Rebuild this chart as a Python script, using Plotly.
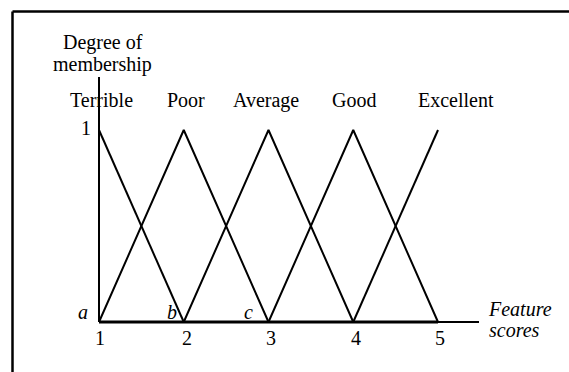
import plotly.graph_objects as go

# ---- data ----
scores = [1, 2, 3, 4, 5]
tick_labels = ["1", "2", "3", "4", "5"]
categories = ["Terrible", "Poor", "Average", "Good", "Excellent"]
terrible_x, terrible_y = [1, 2], [1, 0]
poor_x, poor_y = [1, 2, 3], [0, 1, 0]
average_x, average_y = [2, 3, 4], [0, 1, 0]
good_x, good_y = [3, 4, 5], [0, 1, 0]
excellent_x, excellent_y = [4, 5], [0, 1]
point_letters = ["a", "b", "c"]

W, H = 569, 372
# pixel mapping: x=1 -> 99px, x=5 -> 438px ; y=0 -> 322px, y=1 -> 130px
KX = (438 - 99) / 4.0
KY = (322 - 130) / 1.0
X0 = 1 - 99 / KX
X1 = X0 + W / KX
Y1 = 322 / KY
Y0 = Y1 - H / KY


def dx(px):
    return X0 + px / KX


def dy(py):
    return Y1 - py / KY


FONT = "Liberation Serif, Times New Roman, serif"
fs = 20

fig = go.Figure()
series = [(terrible_x, terrible_y), (poor_x, poor_y), (average_x, average_y),
          (good_x, good_y), (excellent_x, excellent_y)]
for (xs, ys), name in zip(series, categories):
    fig.add_trace(go.Scatter(x=xs, y=ys, mode="lines", name=name,
                             line=dict(color="black", width=2),
                             showlegend=False, hoverinfo="skip"))

shapes = []
# axes
shapes.append(dict(type="line", xref="x", yref="y", x0=1, x1=1, y0=0, y1=dy(77),
                   line=dict(color="black", width=2)))
shapes.append(dict(type="line", xref="x", yref="y", x0=1, x1=dx(479), y0=0, y1=0,
                   line=dict(color="black", width=2)))
shapes.append(dict(type="line", xref="x", yref="y", x0=scores[0], x1=scores[-1], y0=0, y1=0,
                   line=dict(color="black", width=3)))
# frame
shapes.append(dict(type="line", xref="paper", yref="paper", x0=12.5 / W, x1=1, y0=1 - 11.5 / H, y1=1 - 11.5 / H,
                   line=dict(color="black", width=2.5)))
shapes.append(dict(type="line", xref="paper", yref="paper", x0=12.5 / W, x1=12.5 / W, y0=0, y1=1 - 11.5 / H,
                   line=dict(color="black", width=2.5)))

ann = []


def txt(s, px, py, italic=False):
    t = "<i>%s</i>" % s if italic else s
    ann.append(dict(text=t, x=dx(px), y=dy(py), xref="x", yref="y", showarrow=False,
                    xanchor="center", yanchor="middle",
                    font=dict(family=FONT, size=fs, color="black")))


txt("Degree of", 102.5, 42)
txt("membership", 102, 64)
cat_px = [101, 186, 266, 354, 455.5]
for c, p in zip(categories, cat_px):
    txt(c, p, 100)
txt("1", 86, 128)
for lab, px in zip(tick_labels, [100, 187, 271, 356, 440]):
    txt(lab, px, 338)
for lab, px in zip(point_letters, [83, 172, 248]):
    txt(lab, px, 312, italic=True)
txt("Feature", 520, 309, italic=True)
txt("scores", 514, 330, italic=True)

fig.update_layout(
    width=W, height=H, margin=dict(l=0, r=0, t=0, b=0),
    paper_bgcolor="white", plot_bgcolor="white",
    xaxis=dict(range=[X0, X1], visible=False, fixedrange=True),
    yaxis=dict(range=[Y0, Y1], visible=False, fixedrange=True),
    shapes=shapes, annotations=ann,
)
fig.write_html("out.html", config={"displayModeBar": False},
               post_script="document.body.style.margin='0';document.body.style.padding='0';")
